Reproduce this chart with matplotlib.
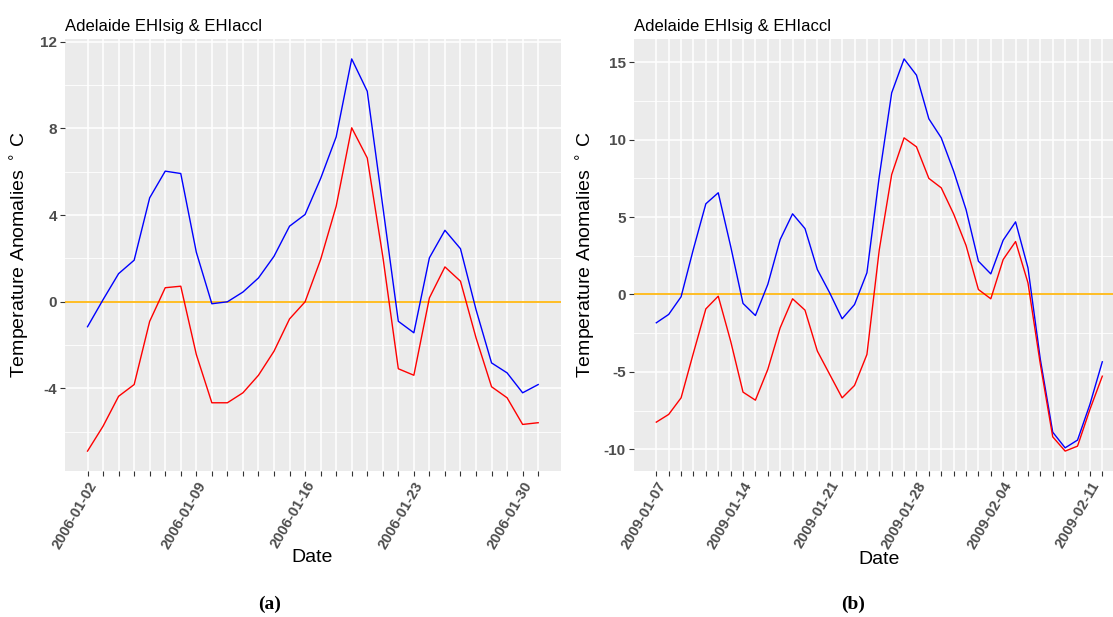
import numpy as np
import pandas as pd
import matplotlib
matplotlib.use('Agg')
import matplotlib.pyplot as plt
import matplotlib.dates as mdates

# panel (a): Adelaide, January 2006
dates_a = pd.date_range('2006-01-02', '2006-01-31', freq='D')
sig_a = [-1.15, 0.1, 1.3, 1.92, 4.8, 6.03, 5.92, 2.29, -0.09, 0.0,
         0.45, 1.1, 2.1, 3.49, 4.03, 5.69, 7.61, 11.21, 9.72, 4.41,
         -0.9, -1.43, 2.03, 3.3, 2.45, -0.36, -2.82, -3.28, -4.2, -3.82]
accl_a = [-6.89, -5.74, -4.36, -3.82, -0.9, 0.65, 0.72, -2.43, -4.66, -4.66,
          -4.2, -3.39, -2.28, -0.79, 0.0, 1.95, 4.41, 8.03, 6.64, 2.1,
          -3.09, -3.39, 0.18, 1.61, 0.95, -1.66, -3.92, -4.43, -5.66, -5.58]
labels_a = ['2006-01-02', '2006-01-09', '2006-01-16', '2006-01-23', '2006-01-30']
yticks_a = [-4, 0, 4, 8, 12]

# panel (b): Adelaide, January/February 2009
dates_b = pd.date_range('2009-01-07', '2009-02-12', freq='D')
sig_b = [-1.83, -1.29, -0.15, 2.95, 5.86, 6.57, 3.12, -0.58, -1.36, 0.65,
         3.55, 5.21, 4.26, 1.61, 0.1, -1.57, -0.65, 1.4, 7.64, 13.03,
         15.22, 14.17, 11.35, 10.12, 7.97, 5.49, 2.15, 1.33, 3.51, 4.69,
         1.72, -4.2, -8.9, -9.91, -9.41, -7.1, -4.35]
accl_b = [-8.25, -7.75, -6.68, -3.77, -0.93, -0.11, -3.01, -6.31, -6.83, -4.84,
          -2.15, -0.28, -1.01, -3.66, -5.17, -6.68, -5.88, -3.88, 2.9, 7.75,
          10.12, 9.54, 7.5, 6.89, 5.2, 3.17, 0.32, -0.28, 2.26, 3.42,
          0.75, -4.52, -9.2, -10.12, -9.8, -7.43, -5.28]
labels_b = ['2009-01-07', '2009-01-14', '2009-01-21', '2009-01-28', '2009-02-04', '2009-02-11']
yticks_b = [-10, -5, 0, 5, 10, 15]

title = 'Adelaide EHIsig & EHIaccl'
W, H = 1113, 617

plt.rcParams['font.family'] = ['Liberation Sans', 'DejaVu Sans']
plt.rcParams['axes.unicode_minus'] = False

fig = plt.figure(figsize=(W / 100, H / 100), dpi=100)


def panel(rect, dates, sig, accl, labels, yticks):
    ax = fig.add_axes(rect)
    x = mdates.date2num(dates)
    ax.set_facecolor('#EBEBEB')
    for s in ax.spines.values():
        s.set_visible(False)

    step = yticks[1] - yticks[0]
    ax.set_yticks(yticks)
    ax.set_yticks([t + step / 2 for t in [yticks[0] - step] + yticks], minor=True)
    ax.set_xticks(x)
    ax.set_xticklabels([d.strftime('%Y-%m-%d') if d.strftime('%Y-%m-%d') in labels else ''
                        for d in dates], rotation=60, ha='right', va='top',
                       rotation_mode='anchor')

    # limits after the ticks, ggplot style 5% expansion
    lo = min(min(sig), min(accl))
    hi = max(max(sig), max(accl))
    ax.set_ylim(lo - 0.05 * (hi - lo), hi + 0.05 * (hi - lo))
    pad = 0.05 * (x[-1] - x[0])
    ax.set_xlim(x[0] - pad, x[-1] + pad)

    ax.grid(True, which='major', color='white', lw=1.1)
    ax.grid(True, which='minor', axis='y', color='white', lw=0.6)
    ax.set_axisbelow(True)
    ax.tick_params(which='major', length=3.4, width=0.8, color='#333333',
                   labelcolor='#4D4D4D', pad=2.5)
    ax.tick_params(which='minor', length=0)
    for t in ax.get_yticklabels():
        t.set_fontsize(11)
        t.set_fontweight('bold')
    for t in ax.get_xticklabels():
        t.set_fontsize(10.5)
        t.set_fontweight('bold')

    ax.axhline(0, color='#FFB300', lw=1.2, zorder=2)
    ax.plot(x, sig, color='#0000FF', lw=1.0, zorder=3)
    ax.plot(x, accl, color='#FF0000', lw=1.0, zorder=3)
    ax.set_title(title, loc='left', fontsize=12, pad=6)
    return ax


bot = 1 - 470.7 / H
hgt = (470.7 - 39.3) / H
ax1 = panel([65 / W, bot, 495.7 / W, hgt], dates_a, sig_a, accl_a, labels_a, yticks_a)
ax2 = panel([634 / W, bot, 490.6 / W, hgt], dates_b, sig_b, accl_b, labels_b, yticks_b)

ylab = 'Temperature Anomalies $^\\circ\\,$C'
fig.text(20 / W, 1 - 255 / H, ylab, rotation=90, ha='center', va='center', fontsize=14)
fig.text(586 / W, 1 - 255 / H, ylab, rotation=90, ha='center', va='center', fontsize=14)
fig.text(312 / W, 1 - 557 / H, 'Date', ha='center', va='center', fontsize=14)
fig.text(879 / W, 1 - 560 / H, 'Date', ha='center', va='center', fontsize=14)

fig.text(270 / W, 1 - 604 / H, '(a)', ha='center', va='center', fontsize=14,
         family='Liberation Serif', fontweight='bold')
fig.text(853 / W, 1 - 604 / H, '(b)', ha='center', va='center', fontsize=14,
         family='Liberation Serif', fontweight='bold')

fig.savefig('out.png', dpi=100)
